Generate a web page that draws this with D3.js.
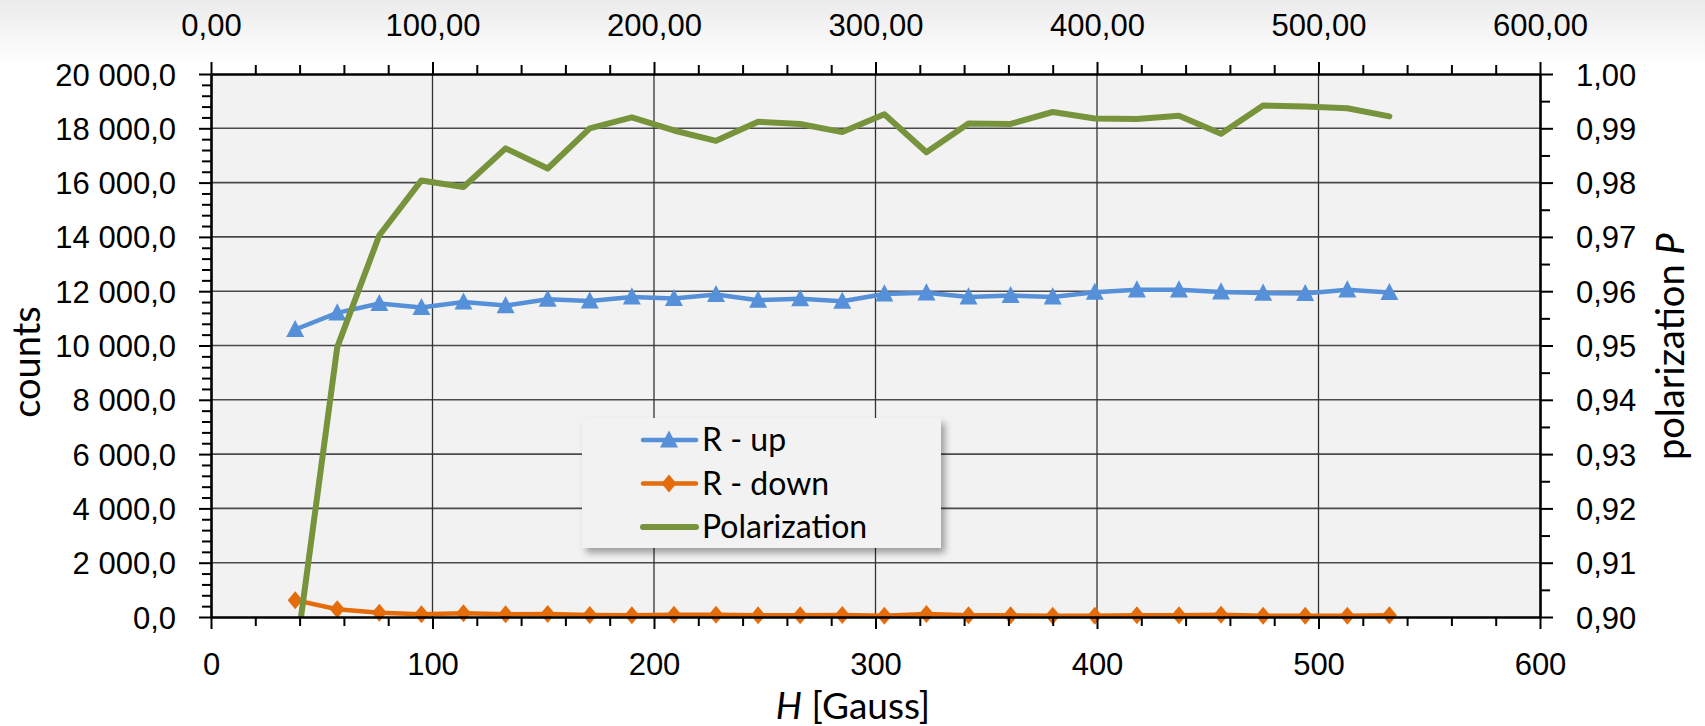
<!DOCTYPE html>
<html>
<head>
<meta charset="utf-8">
<script src="https://cdn.jsdelivr.net/npm/d3@7"></script>
<style>
  body { margin: 0; background: #fff; }
  svg { display: block; font-family: Lato, 'Open Sans', sans-serif; }
</style>
</head>
<body>
<div id="graph"></div>
<script>
'use strict';

// H field values (Gauss)
const hValues = [38, 57, 76, 95, 114, 133, 152, 171, 190, 209, 228, 247, 266, 285,
  304, 323, 342, 361, 380, 399, 418, 437, 456, 475, 494, 513, 532];

const rUp = [10590, 11200, 11545, 11400, 11600, 11470, 11705, 11640, 11790, 11730,
  11880, 11670, 11720, 11630, 11900, 11940, 11790, 11840, 11790, 11960, 12050,
  12050, 11975, 11930, 11915, 12050, 11950];

const rDown = [620, 285, 160, 100, 135, 100, 110, 70, 60, 80, 80, 60, 60, 70, 50,
  110, 60, 60, 50, 50, 60, 60, 80, 50, 50, 50, 60];

const polarization = [0.892, 0.9497, 0.9703, 0.9804, 0.9792, 0.9863, 0.9826, 0.9900,
  0.9920, 0.9896, 0.9877, 0.9912, 0.9908, 0.9893, 0.9926, 0.9856, 0.9909, 0.9908,
  0.9930, 0.9918, 0.9917, 0.9923, 0.9890, 0.9942, 0.9940, 0.9937, 0.9922];

const xTicks = [0, 100, 200, 300, 400, 500, 600];
const countTicks = d3.range(0, 20001, 2000);
const polTicks = [0.90, 0.91, 0.92, 0.93, 0.94, 0.95, 0.96, 0.97, 0.98, 0.99, 1.00];

const seriesNames = ['R - up', 'R - down', 'Polarization'];

const colors = {
  up: '#5590d8',
  down: '#e46c0a',
  pol: '#77933c',
};

const W = 1705, H = 726;
const plot = { left: 211, right: 1540, top: 74, bottom: 617 };

const loc = d3.formatLocale({ decimal: ',', thousands: '\u00a0', grouping: [3], currency: ['', ''] });
const fmtCount = loc.format(',.1f');
const fmtTop = loc.format('.2f');
const fmtPol = loc.format('.2f');

let svgContainer = d3.select('#graph')
  .append('svg')
  .attr('width', W)
  .attr('height', H);

let xScale = d3.scaleLinear().domain([0, 600]).range([plot.left, plot.right]);
let yCount = d3.scaleLinear().domain([0, 20000]).range([plot.bottom, plot.top]);
let yPol = d3.scaleLinear().domain([0.90, 1.00]).range([plot.bottom, plot.top]);

function drawBackground() {
  let defs = svgContainer.append('defs');
  let grad = defs.append('linearGradient')
    .attr('id', 'bg-grad')
    .attr('x1', 0).attr('y1', 0).attr('x2', 0).attr('y2', 1);
  grad.append('stop').attr('offset', '0%').attr('stop-color', '#ebebeb');
  grad.append('stop').attr('offset', '9%').attr('stop-color', '#ffffff');
  grad.append('stop').attr('offset', '100%').attr('stop-color', '#ffffff');

  defs.append('clipPath').attr('id', 'plot-clip')
    .append('rect')
    .attr('x', plot.left).attr('y', plot.top)
    .attr('width', plot.right - plot.left)
    .attr('height', plot.bottom - plot.top);

  let shadow = defs.append('filter').attr('id', 'legend-shadow')
    .attr('x', '-10%').attr('y', '-10%').attr('width', '130%').attr('height', '140%');
  shadow.append('feDropShadow')
    .attr('dx', 4).attr('dy', 5).attr('stdDeviation', 3.5)
    .attr('flood-color', '#000').attr('flood-opacity', 0.35);

  svgContainer.append('rect')
    .attr('width', W).attr('height', H)
    .attr('fill', 'url(#bg-grad)');

  svgContainer.append('rect')
    .attr('x', plot.left).attr('y', plot.top)
    .attr('width', plot.right - plot.left)
    .attr('height', plot.bottom - plot.top)
    .attr('fill', '#f2f2f2');
}

function drawGrid() {
  svgContainer.append('g')
    .attr('class', 'grid')
    .selectAll('line.h')
    .data(countTicks.slice(1, -1))
    .enter()
    .append('line')
      .attr('x1', plot.left).attr('x2', plot.right)
      .attr('y1', d => yCount(d)).attr('y2', d => yCount(d))
      .attr('stroke', '#4a4a4a')
      .attr('stroke-width', 1.6);

  svgContainer.append('g')
    .attr('class', 'grid')
    .selectAll('line.v')
    .data(xTicks.slice(1, -1))
    .enter()
    .append('line')
      .attr('x1', d => xScale(d)).attr('x2', d => xScale(d))
      .attr('y1', plot.top).attr('y2', plot.bottom)
      .attr('stroke', '#333')
      .attr('stroke-width', 1.3);
}

function styleAxis(g, width) {
  g.selectAll('.domain').attr('stroke', '#000').attr('stroke-width', width);
  g.selectAll('.tick line').attr('stroke', '#000').attr('stroke-width', 2);
  g.selectAll('.tick text')
    .attr('fill', '#000')
    .style('font-size', '31px');
}

function drawAxes() {
  // minor ticks first, majors on top
  let minorX = d3.range(0, 601, 20).filter(v => v % 100 != 0);
  let minorCount = d3.range(0, 20001, 400).filter(v => v % 2000 != 0);
  let minorPol = d3.range(0.905, 1.0, 0.01);

  svgContainer.append('g')
    .attr('transform', `translate(0, ${plot.bottom})`)
    .call(d3.axisBottom(xScale).tickValues(minorX).tickSize(9).tickFormat('').tickSizeOuter(0))
    .call(g => { g.select('.domain').remove(); styleAxis(g, 2); });
  svgContainer.append('g')
    .attr('transform', `translate(0, ${plot.top})`)
    .call(d3.axisTop(xScale).tickValues(minorX).tickSize(9).tickFormat('').tickSizeOuter(0))
    .call(g => { g.select('.domain').remove(); styleAxis(g, 2); });
  svgContainer.append('g')
    .attr('transform', `translate(${plot.left}, 0)`)
    .call(d3.axisLeft(yCount).tickValues(minorCount).tickSize(9).tickFormat('').tickSizeOuter(0))
    .call(g => { g.select('.domain').remove(); styleAxis(g, 2); });
  svgContainer.append('g')
    .attr('transform', `translate(${plot.right}, 0)`)
    .call(d3.axisRight(yPol).tickValues(minorPol).tickSize(10).tickFormat('').tickSizeOuter(0))
    .call(g => { g.select('.domain').remove(); styleAxis(g, 2); });

  let bottomAxis = svgContainer.append('g')
    .attr('transform', `translate(0, ${plot.bottom})`)
    .call(d3.axisBottom(xScale).tickValues(xTicks).tickSize(12).tickSizeOuter(0).tickFormat(d3.format('d')))
    .call(g => styleAxis(g, 2.6));
  bottomAxis.selectAll('.tick text').attr('y', 58).attr('dy', 0);

  let topAxis = svgContainer.append('g')
    .attr('transform', `translate(0, ${plot.top})`)
    .call(d3.axisTop(xScale).tickValues(xTicks).tickSize(12).tickSizeOuter(0).tickFormat(fmtTop))
    .call(g => styleAxis(g, 2.6));
  topAxis.selectAll('.tick text').attr('y', 36 - plot.top).attr('dy', 0);

  let leftAxis = svgContainer.append('g')
    .attr('transform', `translate(${plot.left}, 0)`)
    .call(d3.axisLeft(yCount).tickValues(countTicks).tickSize(12).tickSizeOuter(0).tickFormat(fmtCount))
    .call(g => styleAxis(g, 2.6));
  leftAxis.selectAll('.tick text').attr('x', -35).attr('dy', 11);

  let rightAxis = svgContainer.append('g')
    .attr('transform', `translate(${plot.right}, 0)`)
    .call(d3.axisRight(yPol).tickValues(polTicks).tickSize(13).tickSizeOuter(0).tickFormat(fmtPol))
    .call(g => styleAxis(g, 2.6));
  rightAxis.selectAll('.tick text').attr('x', 36).attr('dy', 11);
}

function trianglePath(size) {
  let h = size * 0.95;
  return `M0,${-h / 2 - 1}L${size / 2},${h / 2 - 1}L${-size / 2},${h / 2 - 1}Z`;
}

function diamondPath(w, h) {
  return `M0,${-h / 2}L${w / 2},0L0,${h / 2}L${-w / 2},0Z`;
}

function plotData() {
  let points = hValues.map((h, i) => ({ h: h, up: rUp[i], down: rDown[i], pol: polarization[i] }));

  let lineUp = d3.line().x(d => xScale(d.h)).y(d => yCount(d.up));
  let lineDown = d3.line().x(d => xScale(d.h)).y(d => yCount(d.down));
  let linePol = d3.line().x(d => xScale(d.h)).y(d => yPol(d.pol));

  svgContainer.append('path')
    .datum(points)
    .attr('d', lineUp)
    .attr('fill', 'none')
    .attr('stroke', colors.up)
    .attr('stroke-width', 4.5)
    .attr('stroke-linejoin', 'round');

  svgContainer.append('path')
    .datum(points)
    .attr('d', lineDown)
    .attr('fill', 'none')
    .attr('stroke', colors.down)
    .attr('stroke-width', 4.5)
    .attr('stroke-linejoin', 'round');

  svgContainer.selectAll('.down-marker')
    .data(points)
    .enter()
    .append('path')
      .attr('class', 'down-marker')
      .attr('transform', d => `translate(${xScale(d.h)}, ${yCount(d.down)})`)
      .attr('d', diamondPath(15, 18))
      .attr('fill', colors.down);

  svgContainer.selectAll('.up-marker')
    .data(points)
    .enter()
    .append('path')
      .attr('class', 'up-marker')
      .attr('transform', d => `translate(${xScale(d.h)}, ${yCount(d.up)})`)
      .attr('d', trianglePath(18))
      .attr('fill', colors.up);

  svgContainer.append('path')
    .datum(points)
    .attr('clip-path', 'url(#plot-clip)')
    .attr('d', linePol)
    .attr('fill', 'none')
    .attr('stroke', colors.pol)
    .attr('stroke-width', 6)
    .attr('stroke-linejoin', 'round')
    .attr('stroke-linecap', 'round');
}

function makeLegend() {
  let legend = svgContainer.append('g').attr('class', 'legend');
  legend.append('rect')
    .attr('x', 582).attr('y', 418)
    .attr('width', 359).attr('height', 130)
    .attr('fill', '#f2f2f2')
    .attr('filter', 'url(#legend-shadow)');

  let rows = legend.selectAll('.row')
    .data(seriesNames)
    .enter()
    .append('g')
      .attr('class', 'row')
      .attr('transform', (d, i) => `translate(0, ${440 + i * 43.5})`);

  rows.append('line')
    .attr('x1', 643).attr('x2', 696)
    .attr('stroke', (d, i) => [colors.up, colors.down, colors.pol][i])
    .attr('stroke-width', (d, i) => i == 2 ? 6 : 4.5)
    .attr('stroke-linecap', 'round');

  rows.filter((d, i) => i == 0).append('path')
    .attr('transform', 'translate(669, 0)')
    .attr('d', trianglePath(18))
    .attr('fill', colors.up);
  rows.filter((d, i) => i == 1).append('path')
    .attr('transform', 'translate(669, 0)')
    .attr('d', diamondPath(15, 18))
    .attr('fill', colors.down);

  rows.append('text')
    .attr('x', 702)
    .attr('y', 11)
    .style('font-size', '32px')
    .attr('fill', '#000')
    .text(d => d);
}

function makeLabels() {
  let hLabel = svgContainer.append('text')
    .attr('x', 853)
    .attr('y', 719)
    .attr('text-anchor', 'middle')
    .style('font-size', '37px')
    .attr('fill', '#000');
  hLabel.append('tspan').style('font-style', 'italic').text('H');
  hLabel.append('tspan').text(' [Gauss]');

  svgContainer.append('text')
    .attr('transform', 'translate(40, 362)rotate(-90)')
    .attr('text-anchor', 'middle')
    .style('font-size', '38px')
    .attr('fill', '#000')
    .text('counts');

  let pLabel = svgContainer.append('text')
    .attr('transform', 'translate(1684, 460)rotate(-90)')
    .attr('text-anchor', 'start')
    .style('font-size', '38px')
    .attr('fill', '#000');
  pLabel.append('tspan').text('polarization ');
  pLabel.append('tspan').style('font-style', 'italic').text('P');
}

drawBackground();
drawGrid();
plotData();
drawAxes();
makeLegend();
makeLabels();
</script>
</body>
</html>
